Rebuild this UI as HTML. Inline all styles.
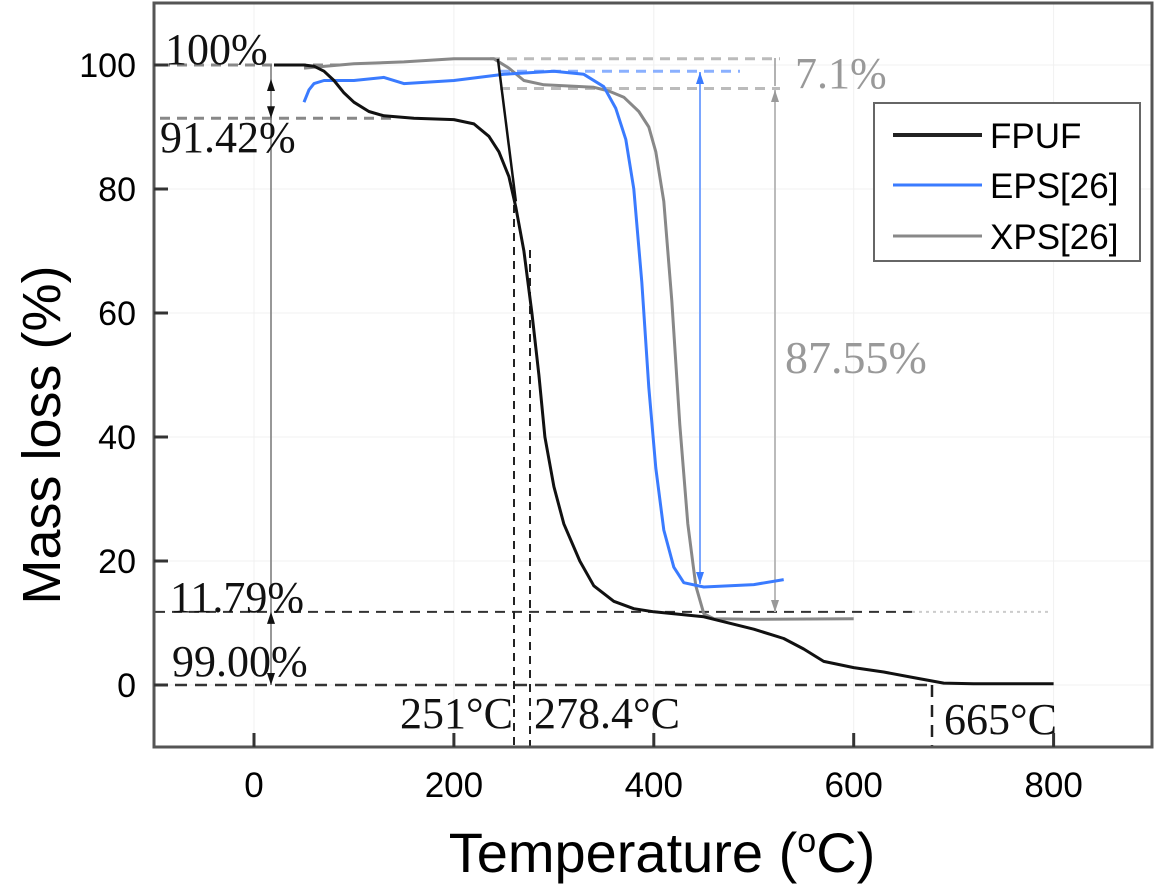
<!DOCTYPE html>
<html><head><meta charset="utf-8"><style>
html,body{margin:0;padding:0;background:#fff}
svg{display:block}
.sans{font-family:"Liberation Sans",sans-serif}
.serif{font-family:"Liberation Serif",serif}
</style></head><body>
<svg id="chart" width="1156" height="886" viewBox="0 0 1156 886">
<g id="grid"></g>
<g id="annot"></g>
<g id="series"></g>
<rect x="154" y="3" width="998" height="744" fill="none" stroke="#555" stroke-width="3"/>
<g id="ticks"></g>
<text class="sans" x="662" y="872" font-size="56" text-anchor="middle">Temperature (<tspan font-size="34" dy="-20">o</tspan><tspan dy="20">C)</tspan></text>
<text class="sans" transform="translate(60,435) rotate(-90)" font-size="54" text-anchor="middle">Mass loss (%)</text>
<g>
<rect x="874" y="103" width="266" height="158" fill="#fff" stroke="#666" stroke-width="2"/>
<line x1="893" y1="135" x2="982" y2="135" stroke="#222" stroke-width="4"/>
<text class="sans" x="990" y="148" font-size="35">FPUF</text>
<line x1="893" y1="185" x2="982" y2="185" stroke="#3a7bff" stroke-width="3"/>
<text class="sans" x="990" y="198" font-size="35">EPS[26]</text>
<line x1="893" y1="236" x2="982" y2="236" stroke="#888" stroke-width="3"/>
<text class="sans" x="990" y="249" font-size="35">XPS[26]</text>
</g>
</svg>
<script>
const xTicks=[0,200,400,600,800];
const yTicks=[0,20,40,60,80,100];
const fpufT=[20,50,60,70,80,90,100,115,130,160,200,220,235,245,255,262,270,278,285,291,300,310,326,340,360,380,400,450,500,530,550,570,600,630,660,690,720,800];
const fpufM=[100,100,99.8,99,97.5,95.5,94,92.5,91.8,91.4,91.2,90.5,88.5,86,82,77,70,60,50,40,32,26,20,16,13.5,12.3,11.8,11,9,7.5,5.8,3.8,2.8,2.1,1.2,0.3,0.2,0.2];
const epsT=[50,55,60,70,100,130,150,200,250,300,330,350,362,372,380,388,395,402,410,420,430,450,500,530];
const epsM=[94,96,97,97.5,97.5,98,97,97.5,98.5,99,98.5,96.5,93,88,80,65,48,35,25,19,16.5,15.8,16.2,17];
const xpsT=[50,100,150,200,240,255,270,290,340,355,370,385,395,402,410,418,426,434,442,450,460,500,600];
const xpsM=[99.5,100.2,100.5,101,101,99.5,97.5,96.8,96.4,95.8,94.8,92.5,90,86,78,62,42,26,16,11.5,10.7,10.6,10.7];
const X=v=>254+v*0.9995;
const Y=v=>747-(v+10)*6.2;
const NS='http://www.w3.org/2000/svg';
function mk(tag,attrs,parent){const e=document.createElementNS(NS,tag);for(const k in attrs)e.setAttribute(k,attrs[k]);document.getElementById(parent).appendChild(e);return e;}
xTicks.forEach(t=>{
 const g=mk('line',{x1:X(t),x2:X(t),y1:3,y2:747,stroke:'#f0f0f0','stroke-width':1},'grid');
 
 
 const l=mk('line',{x1:X(t),x2:X(t),y1:747,y2:733,stroke:'#333','stroke-width':3},'ticks');
 
 
 const tx=mk('text',{x:X(t),y:797,'font-size':35,'text-anchor':'middle',class:'sans'},'ticks');
 tx.textContent=t;
 
 
});
yTicks.forEach(t=>{
 const g=mk('line',{x1:154,x2:1152,y1:Y(t),y2:Y(t),stroke:'#f0f0f0','stroke-width':1},'grid');
 
 
 const l=mk('line',{x1:154,x2:168,y1:Y(t),y2:Y(t),stroke:'#333','stroke-width':3},'ticks');
 
 
 const tx=mk('text',{x:136,y:Y(t)+12,'font-size':34,'text-anchor':'end',class:'sans'},'ticks');
 tx.textContent=t;
 
 
});
function path(T,M,color,w,name){
 let d='';T.forEach((t,i)=>{d+=(i?'L':'M')+X(t).toFixed(1)+','+Y(M[i]).toFixed(1);});
 const p=mk('path',{d:d,fill:'none',stroke:color,'stroke-width':w,'stroke-linejoin':'round'},'series');
 
 
}
function ln(x1,y1,x2,y2,c,w,dash,name){
 const l=mk('line',{x1:x1,y1:y1,x2:x2,y2:y2,stroke:c,'stroke-width':w},'annot');
 if(dash)l.setAttribute('stroke-dasharray',dash);
 
 
}
function txt(x,y,s,size,c,anchor,name){
 const t=mk('text',{x:x,y:y,'font-size':size,fill:c,'text-anchor':anchor||'start',class:'serif'},'annot');
 t.textContent=s;
 
 
}
function arrowHead(x,y,dir,c,name){
 const s=dir<0?-1:1;
 const p=mk('polygon',{points:`${x-4},${y-12*s} ${x+4},${y-12*s} ${x},${y}`,fill:c},'annot');
 
 
}
ln(160,Y(100),340,Y(100),'#888',3,'10 7','ref-100');
ln(490,Y(101),780,Y(101),'#bbb',3,'10 7','ref-xps-top');
ln(500,Y(99),740,Y(99),'#8ab0ff',3,'10 7','ref-eps-top');
ln(500,Y(96.2),780,Y(96.2),'#bbb',3,'10 7','ref-xps-96');
ln(160,Y(91.42),392,Y(91.42),'#888',3,'10 7','ref-91');
ln(155,Y(11.79),912,Y(11.79),'#333',2,'10 7','ref-11');
ln(912,Y(11.79),1050,Y(11.79),'#ccc',2,'3 4','ref-11-dotted');
ln(155,Y(0),935,Y(0),'#333',2.5,'12 8','ref-0');
ln(514,205,514,747,'#222',2,'8 6','vline-251');
ln(530,250,530,747,'#222',2,'8 6','vline-278');
ln(932,685,932,747,'#222',2.5,'12 8','vline-665');
ln(271,65,271,685,'#777',1.5,null,'span-line');
arrowHead(271,Y(100)+14,-1,'#111','arrow-up-1');arrowHead(271,Y(91.42),1,'#111','arrow-down-1');
arrowHead(271,Y(11.79),-1,'#111','arrow-up-2');arrowHead(271,Y(0),1,'#111','arrow-down-2');
ln(700,72,700,584,'#7aa6ff',2,null,'eps-span');
arrowHead(700,72,-1,'#3a7bff','eps-arrow-up');arrowHead(700,584,1,'#3a7bff','eps-arrow-down');
ln(775,88,775,612,'#bbb',2,null,'xps-span');
arrowHead(775,90,-1,'#999','xps-arrow-up');arrowHead(775,612,1,'#999','xps-arrow-down');
ln(775,58,775,86,'#999',1.5,null,'xps-7-span');
txt(165,64,'100%',44,'#111','start','label-100');
txt(160,152,'91.42%',44,'#111','start','label-91');
txt(170,612,'11.79%',44,'#111','start','label-11');
txt(172,676,'99.00%',44,'#111','start','label-99');
txt(513,728,'251°C',44,'#111','end','label-251');
txt(534,728,'278.4°C',44,'#111','start','label-278');
txt(944,734,'665°C',44,'#111','start','label-665');
txt(795,88,'7.1%',44,'#999','start','label-7');
txt(785,373,'87.55%',46,'#999','start','label-87');
path(xpsT,xpsM,'#888',3,'xps-line');
path(epsT,epsM,'#3a7bff',3,'eps-line');
path(fpufT,fpufM,'#111',3,'fpuf-line');
const s=mk('line',{x1:X(244),y1:Y(101),x2:X(262),y2:Y(78),stroke:'#111','stroke-width':2.5},'series');


</script>
</body></html>
